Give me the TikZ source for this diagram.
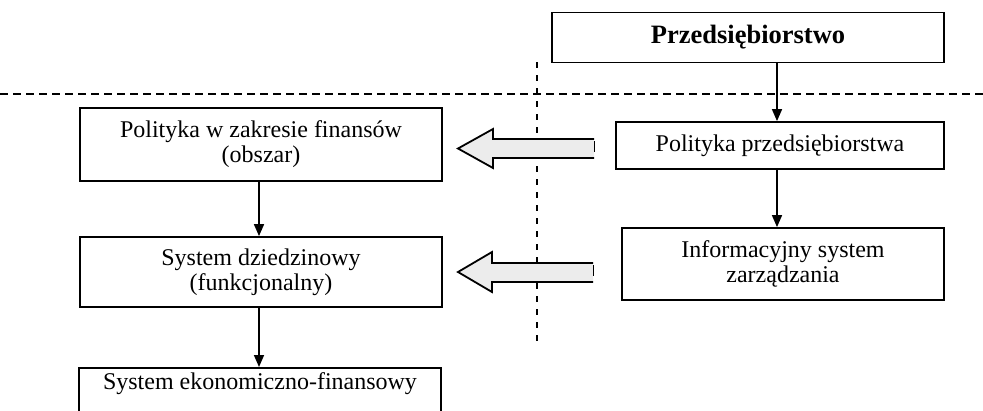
\documentclass[tikz,border=0pt]{standalone}
\usepackage{fontspec}
\setmainfont{Liberation Serif}
\usetikzlibrary{arrows.meta}
\begin{document}
\begin{tikzpicture}[x=1pt,y=-1pt,
  box/.style={draw, line width=1.8pt, inner sep=0pt, align=center,
    font=\fontsize{24}{25}\selectfont},
  txt/.style={inner sep=0pt, align=center, font=\fontsize{24}{25}\selectfont},
  conn/.style={line width=1.6pt, -{Triangle[length=12pt,width=10pt]}},
  hollow/.style={draw, line width=1.8pt, fill=gray!15, line join=miter},
  hdash/.style={line width=1.5pt, dash pattern=on 8pt off 5pt},
  vdash/.style={line width=2pt, dash pattern=on 6pt off 7pt}]
\useasboundingbox (0,0) rectangle (983,410);
\clip (0,0) rectangle (983,410);

% right column
\node[box, minimum width=392, minimum height=50,
  font=\bfseries\fontsize{26.5}{30}\selectfont] (P) at (748,37.5) {Przedsiębiorstwo};
\node[box, minimum width=328, minimum height=47] (PP) at (780,145.5) {Polityka przedsiębiorstwa};
\node[box, minimum width=322, minimum height=72] (IS) at (783,264) {Informacyjny system\\zarządzania};

% left column
\node[box, minimum width=362, minimum height=73] (FP) at (261,144.5) {Polityka w zakresie finansów\\(obszar)};
\node[box, minimum width=362, minimum height=70] (SD) at (261,272) {System dziedzinowy\\(funkcjonalny)};
\node[box, minimum width=362, minimum height=63, anchor=north] (SE) at (260,367) {};
\node[txt] (SEt) at (260,384) {System ekonomiczno-finansowy};

% connector x positions
\coordinate (rx) at (777,0);
\coordinate (lx) at (259,0);

\draw[conn] (P.south -| rx) -- (PP.north -| rx);
\draw[conn] (PP.south -| rx) -- (IS.north -| rx);
\draw[conn] (FP.south -| lx) -- (SD.north -| lx);
\draw[conn] (SD.south -| lx) -- (SE.north -| lx);

% dashed separators
\draw[hdash] (0,94) -- (983,94);
\draw[vdash] (537,62) -- (537,345);

% hollow block arrows
\path[hollow] (594,139) -- (493,139) -- (493,129) -- (458,148.5) -- (493,168) -- (493,158) -- (594,158);
\draw[line width=1pt] (594,141) -- (594,152);
\path[hollow] (593,263) -- (492,263) -- (492,252) -- (458,272) -- (492,292) -- (492,282) -- (593,282);
\draw[line width=1pt] (593,265) -- (593,276);
\end{tikzpicture}
\end{document}
